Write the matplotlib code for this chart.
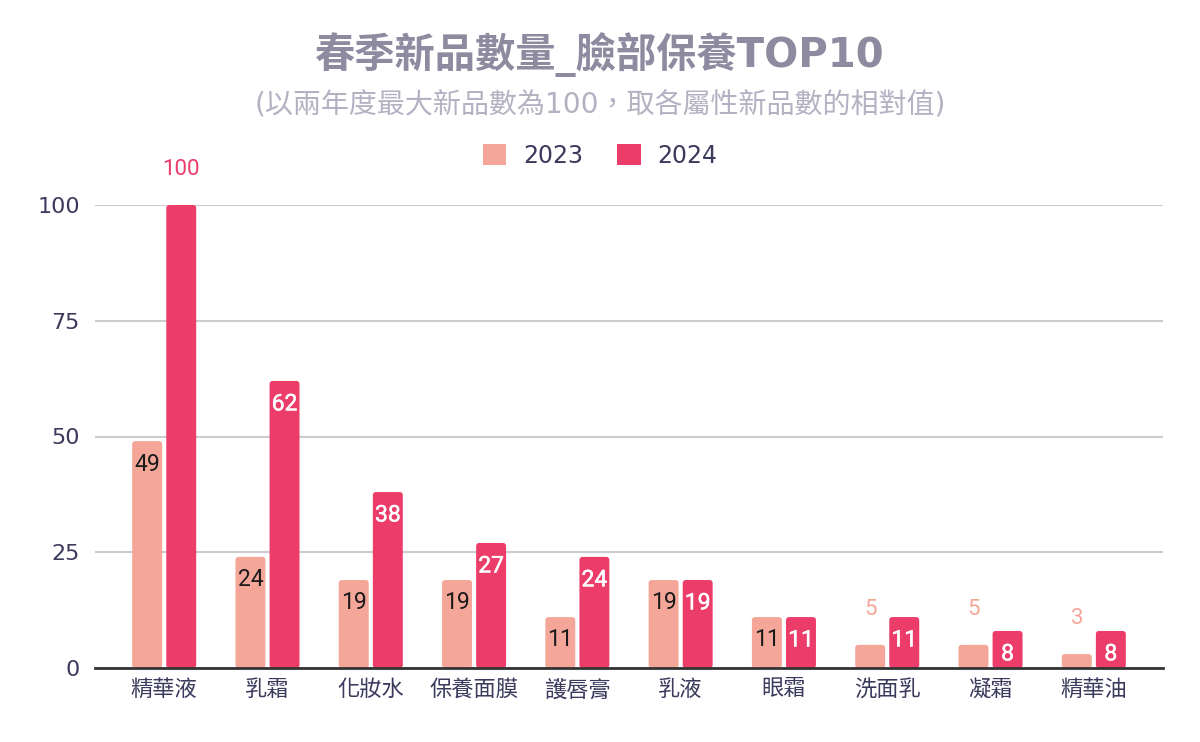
import matplotlib
matplotlib.use("Agg")
import matplotlib.pyplot as plt
from matplotlib.patches import FancyBboxPatch, Patch
import matplotlib.patheffects as pe
import numpy as np

categories = ["精華液", "乳霜", "化妝水", "保養面膜", "護唇膏", "乳液", "眼霜", "洗面乳", "凝霜", "精華油"]
series_names = ["2023", "2024"]
values_2023 = [49, 24, 19, 19, 11, 19, 11, 5, 5, 3]
values_2024 = [100, 62, 38, 27, 24, 19, 11, 11, 8, 8]
y_ticks = [0, 25, 50, 75, 100]
title = "春季新品數量_臉部保養TOP10"
subtitle = "(以兩年度最大新品數為100，取各屬性新品數的相對值)"

C23 = "#F4A698"
C24 = "#EB3C6A"
TICK_C = "#3B3A5C"
FAM = ["DejaVu Sans", "Noto Sans CJK TC"]
plt.rcParams["font.family"] = FAM

fig = plt.figure(figsize=(12, 7.42), dpi=100)
ax = fig.add_axes([95 / 1200, 74 / 742, 1068 / 1200, 463 / 742])

x = np.arange(len(categories))
bw = 0.29
off = 0.165
b23 = ax.bar(x - off, values_2023, bw, color=C23, zorder=2)
b24 = ax.bar(x + off, values_2024, bw, color=C24, zorder=2)

ax.set_xlim(-0.67, 9.67)
ax.set_ylim(0, 100)

# rounded corners
px_x = (ax.get_xlim()[1] - ax.get_xlim()[0]) / 1068
px_y = 100 / 463
for bars in (b23, b24):
    for r in bars:
        bx, by, w, h = r.get_x(), r.get_y(), r.get_width(), r.get_height()
        fb = FancyBboxPatch((bx, by), w, h,
                            boxstyle=f"round,pad=0,rounding_size={3 * px_x}",
                            mutation_aspect=px_y / px_x,
                            facecolor=r.get_facecolor(), edgecolor="none", zorder=2)
        ax.add_patch(fb)
        r.set_visible(False)

# data labels
def label(bars, vals, color, inside_color, stroke):
    for r, v in zip(bars, vals):
        cx = r.get_x() + r.get_width() / 2
        top = r.get_height()
        if v < 6 or v >= 100:
            ax.annotate(str(v), (cx, top), xytext=(0, 25.5), textcoords="offset points",
                        ha="center", va="center", fontsize=16, color=color,
                        family="Roboto", annotation_clip=False, zorder=4)
        else:
            t = ax.annotate(str(v), (cx, top), xytext=(0, -16.5), textcoords="offset points",
                            ha="center", va="center", fontsize=16.5, color=inside_color,
                            family="Roboto", zorder=4)
            if stroke:
                t.set_path_effects([pe.withStroke(linewidth=0.35, foreground=inside_color)])

label(b23, values_2023, C23, "#1a1a1a", False)
label(b24, values_2024, C24, "white", True)

ax.set_yticks(y_ticks)
ax.set_yticklabels([str(t) for t in y_ticks])
ax.set_xticks(x)
ax.set_xticklabels(categories)
ax.tick_params(axis="y", length=0, pad=11, labelsize=16, labelcolor=TICK_C)
ax.tick_params(axis="x", length=0, pad=8, labelsize=16, labelcolor=TICK_C)
ax.grid(axis="y", color="#CCCCCC", linewidth=1.5, zorder=0)
ax.set_axisbelow(True)
for s in ("left", "right", "top"):
    ax.spines[s].set_visible(False)
ax.spines["bottom"].set_color("#333333")
ax.spines["bottom"].set_linewidth(2)
ax.spines["bottom"].set_zorder(5)

fig.text(0.5, 1 - 55 / 742, title, ha="center", va="center", fontsize=29,
         fontweight="bold", color="#8E8BA0")
fig.text(0.5, 1 - 104 / 742, subtitle, ha="center", va="center", fontsize=20.2,
         color="#B3B1C2")

handles = [Patch(facecolor=C23, edgecolor="none"), Patch(facecolor=C24, edgecolor="none")]
leg = fig.legend(handles, series_names, loc="center", bbox_to_anchor=(0.5, 1 - 156 / 742),
                 ncol=2, frameon=False, fontsize=17, handlelength=1.0, handleheight=1.0,
                 handletextpad=0.7, columnspacing=1.45, labelcolor=TICK_C)

fig.savefig("out.png", dpi=100)
